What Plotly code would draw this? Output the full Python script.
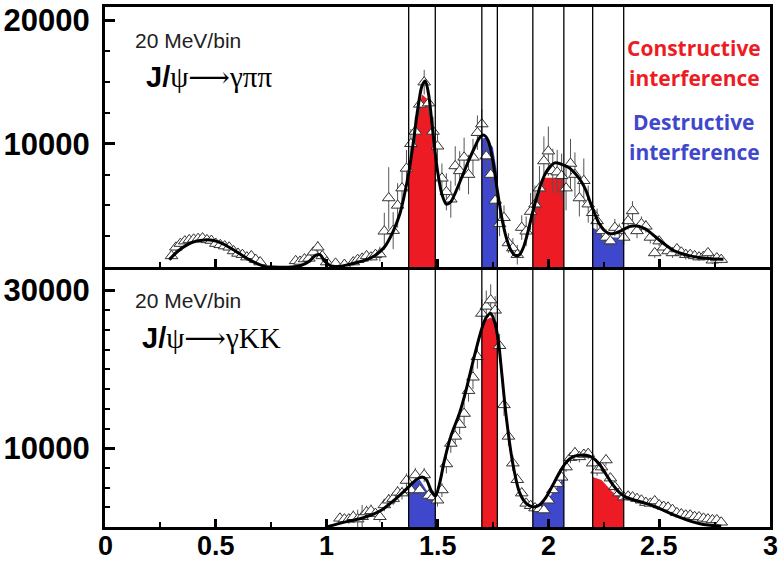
import plotly.graph_objects as go

# ---------------- data ----------------
boundaries = [1.37, 1.49, 1.70, 1.77, 1.93, 2.07, 2.20, 2.34]

# J/psi -> gamma pi pi (top panel)
top_x = [
    0.30, 0.32, 0.34, 0.36, 0.38, 0.40, 0.42, 0.44, 0.46, 0.48,
    0.50, 0.52, 0.54, 0.56, 0.58, 0.60, 0.62, 0.64, 0.66, 0.68,
    0.70, 0.86, 0.88, 0.90, 0.92, 0.94, 0.96, 0.98, 1.00, 1.04,
    1.08, 1.12, 1.14, 1.16, 1.18, 1.20, 1.22, 1.24, 1.26, 1.28,
    1.30, 1.32, 1.34, 1.36, 1.38, 1.40, 1.42, 1.44, 1.46, 1.48,
    1.50, 1.52, 1.54, 1.56, 1.58, 1.60, 1.62, 1.64, 1.66, 1.68,
    1.70, 1.72, 1.74, 1.76, 1.78, 1.80, 1.82, 1.84, 1.86, 1.88,
    1.90, 1.92, 1.94, 1.96, 1.98, 2.00, 2.02, 2.04, 2.06, 2.08,
    2.10, 2.12, 2.14, 2.16, 2.18, 2.20, 2.22, 2.24, 2.26, 2.28,
    2.30, 2.32, 2.34, 2.36, 2.38, 2.40, 2.42, 2.44, 2.46, 2.48,
    2.50, 2.52, 2.54, 2.56, 2.58, 2.60, 2.62, 2.64, 2.66, 2.68,
    2.70, 2.72, 2.74, 2.76, 2.78]
top_y = [
    900, 1600, 1900, 2100, 2200, 2250, 2300, 2350, 2200, 2150,
    1900, 1800, 1700, 1600, 1300, 1100, 1000, 800, 900, 600,
    400, 500, 450, 650, 700, 1200, 1600, 900, 400, 300,
    200, 400, 600, 700, 900, 800, 1000, 1050, 2900, 5600,
    2950, 5000, 6400, 8000, 10000, 11000, 13200, 15000, 13300, 11000,
    9800, 7200, 6100, 5500, 8200, 7800, 8900, 7500, 8900, 10900,
    11600, 9000, 7500, 5400, 3500, 4000, 1950, 1540, 1000, 3200,
    2900, 4500, 5100, 6400, 8600, 9400, 7800, 7700, 7400, 6400,
    8400, 7500, 5600, 7000, 5100, 4400, 3740, 2930, 2400, 2100,
    3200, 2930, 2400, 3740, 4550, 2930, 3500, 3300, 2400, 1140,
    2100, 1600, 1300, 1140, 1460, 1200, 1000, 1000, 900, 800,
    850, 1140, 550, 730, 600]
top_err = [
    300, 300, 300, 300, 300, 300, 300, 300, 300, 300,
    300, 300, 300, 300, 300, 300, 300, 300, 300, 300,
    300, 300, 300, 300, 300, 400, 500, 400, 300, 300,
    300, 300, 300, 300, 300, 300, 400, 600, 1500, 2500,
    1500, 1800, 1500, 1500, 1200, 1200, 1000, 1000, 1000, 1200,
    1200, 1200, 1500, 1500, 1600, 1600, 1600, 1600, 1500, 1400,
    1200, 1300, 1300, 1200, 1000, 1000, 800, 800, 800, 1000,
    1200, 1500, 1500, 1800, 2000, 2000, 1800, 1800, 1800, 1800,
    2000, 1800, 1500, 1800, 1500, 1200, 1000, 800, 700, 600,
    700, 600, 600, 700, 800, 600, 600, 500, 500, 400,
    400, 400, 400, 400, 400, 400, 400, 300, 300, 300,
    300, 300, 300, 300, 300]

top_curve_x = [
    0.29, 0.33, 0.37, 0.41, 0.45, 0.49, 0.53, 0.57, 0.61, 0.65,
    0.69, 0.72, 0.76, 0.84, 0.88, 0.92, 0.95, 0.97, 0.99, 1.02,
    1.06, 1.10, 1.14, 1.18, 1.22, 1.26, 1.30, 1.33, 1.35, 1.37,
    1.39, 1.41, 1.43, 1.445, 1.46, 1.48, 1.50, 1.52, 1.54, 1.56,
    1.58, 1.61, 1.64, 1.67, 1.69, 1.71, 1.73, 1.75, 1.77, 1.79,
    1.81, 1.83, 1.85, 1.87, 1.89, 1.91, 1.93, 1.95, 1.97, 1.99,
    2.01, 2.03, 2.05, 2.07, 2.09, 2.11, 2.13, 2.15, 2.17, 2.19,
    2.21, 2.23, 2.25, 2.27, 2.29, 2.31, 2.33, 2.35, 2.37, 2.39,
    2.41, 2.43, 2.45, 2.48, 2.51, 2.54, 2.57, 2.60, 2.64, 2.68,
    2.72, 2.76, 2.79]
top_curve_y = [
    600, 1300, 1800, 2100, 2200, 2150, 1900, 1500, 1050, 600,
    250, 50, 0, 0, 100, 450, 950, 1000, 500, 80,
    60, 200, 380, 600, 950, 1600, 2900, 4300, 5800, 7600,
    10000, 12700, 14700, 15100, 14000, 10800, 7800, 5900, 5100, 5300,
    6000, 7300, 8600, 9800, 10500, 10700, 10200, 8600, 6200, 4000,
    2400, 1400, 950, 1000, 1700, 3000, 4500, 5800, 6900, 7700,
    8200, 8450, 8400, 8250, 8100, 7800, 7400, 6900, 6200, 5200,
    4300, 3500, 3000, 2750, 2700, 2800, 2950, 3150, 3300, 3350,
    3300, 3150, 2950, 2500, 2050, 1650, 1300, 1100, 900, 780,
    700, 650, 620]

# shaded interference regions, top panel
top_red1_x = [1.37, 1.40, 1.43, 1.45, 1.47, 1.49]
top_red1_y = [7400, 11400, 14000, 13700, 12100, 10000]
top_blue1_x = [1.70, 1.72, 1.75, 1.77]
top_blue1_y = [10400, 10500, 9700, 7500]
top_red2_x = [1.93, 1.95, 1.975, 2.07]
top_red2_y = [5000, 5900, 7240, 7240]
top_blue2_x = [2.20, 2.22, 2.25, 2.34]
top_blue2_y = [3200, 3000, 2450, 2360]

# J/psi -> gamma K K (bottom panel)
bot_x = [
    1.06, 1.08, 1.10, 1.12, 1.14, 1.16, 1.18, 1.20, 1.22, 1.24,
    1.26, 1.28, 1.30, 1.32, 1.34, 1.36, 1.38, 1.40, 1.42, 1.44,
    1.46, 1.48, 1.50, 1.52, 1.54, 1.56, 1.58, 1.60, 1.62, 1.64,
    1.66, 1.68, 1.70, 1.72, 1.74, 1.76, 1.78, 1.80, 1.82, 1.84,
    1.86, 1.88, 1.90, 1.92, 1.94, 1.96, 1.98, 2.00, 2.02, 2.04,
    2.06, 2.08, 2.10, 2.12, 2.14, 2.16, 2.18, 2.20, 2.22, 2.24,
    2.26, 2.28, 2.30, 2.32, 2.34, 2.36, 2.38, 2.40, 2.42, 2.44,
    2.46, 2.48, 2.50, 2.52, 2.54, 2.56, 2.58, 2.60, 2.62, 2.64,
    2.66, 2.68, 2.70, 2.72, 2.74, 2.76, 2.78]
bot_y = [
    1100, 1000, 1000, 1300, 1000, 1300, 1900, 2050, 1700, 1300,
    2800, 3400, 3600, 4400, 4300, 5900, 4700, 6600, 4700, 6600,
    4000, 3800, 3400, 4700, 8000, 10600, 11500, 13000, 14400, 17300,
    19000, 21600, 27100, 28000, 28800, 27500, 23000, 15500, 11500, 8100,
    6000, 4300, 3000, 2700, 2400, 2300, 2150, 3400, 4700, 5500,
    6300, 7600, 8800, 9400, 8900, 9200, 9300, 8100, 7200, 7600,
    8500, 6200, 5100, 4300, 3800, 3900, 3800, 3600, 3400, 3100,
    3000, 3300, 2800, 2600, 2500, 2200, 1800, 1650, 1500, 1500,
    1300, 1270, 1100, 1000, 900, 900, 600]
bot_err = [
    500, 500, 600, 800, 1200, 1500, 800, 800, 700, 700,
    800, 800, 800, 800, 800, 900, 900, 900, 900, 900,
    800, 800, 800, 900, 1200, 1200, 1200, 1200, 1400, 1400,
    1500, 1500, 1800, 2000, 2000, 1800, 1500, 1400, 1200, 1000,
    800, 700, 600, 600, 600, 600, 600, 600, 600, 600,
    600, 600, 700, 700, 700, 700, 700, 700, 700, 700,
    700, 600, 600, 600, 500, 500, 500, 500, 500, 500,
    500, 500, 400, 400, 400, 400, 400, 400, 400, 400,
    400, 400, 400, 300, 300, 300, 300]

bot_curve_x = [
    1.00, 1.05, 1.10, 1.15, 1.20, 1.25, 1.30, 1.34, 1.37, 1.40,
    1.43, 1.45, 1.47, 1.49, 1.51, 1.53, 1.56, 1.60, 1.63, 1.66,
    1.70, 1.72, 1.74, 1.76, 1.775, 1.79, 1.81, 1.84, 1.87, 1.90,
    1.93, 1.96, 1.99, 2.02, 2.05, 2.08, 2.11, 2.14, 2.17, 2.20,
    2.23, 2.26, 2.29, 2.32, 2.35, 2.39, 2.44, 2.48, 2.52, 2.56,
    2.60, 2.64, 2.68, 2.72, 2.78]
bot_curve_y = [
    0, 400, 750, 1050, 1500, 2200, 3300, 4300, 5100, 5900,
    6350, 6000, 4700, 3900, 5600, 8300, 11500, 14500, 17500, 21000,
    25200, 26600, 27100, 25800, 23500, 19500, 14000, 8000, 4400, 3000,
    2550, 2800, 3800, 5300, 6900, 8200, 8900, 9100, 9100, 8800,
    8000, 6700, 5400, 4400, 3800, 3400, 3000, 2600, 2100, 1600,
    1150, 750, 450, 250, 100]

# shaded interference regions, bottom panel
bot_blue1_x = [1.37, 1.39, 1.42, 1.45, 1.49]
bot_blue1_y = [4940, 5570, 6000, 4700, 3420]
bot_red1_x = [1.70, 1.74, 1.77]
bot_red1_y = [26000, 26600, 26000]
bot_blue2_x = [1.93, 1.99, 2.03, 2.07]
bot_blue2_y = [2400, 3300, 4700, 6200]
bot_red2_x = [2.20, 2.24, 2.29, 2.34]
bot_red2_y = [6330, 5950, 4430, 3670]

x_tick_vals = [0, 0.5, 1, 1.5, 2, 2.5, 3]
x_tick_text = ["0", "0.5", "1", "1.5", "2", "2.5", "3"]
top_y_ticks = [10000, 20000]
bot_y_ticks = [10000, 30000]

RED = "#ED1C24"
BLUE = "#3F48CC"

fig = go.Figure()


def add_fill(xs, ys, color, xa, ya):
    fig.add_trace(go.Scatter(x=xs, y=ys, mode="lines", fill="tozeroy",
                             fillcolor=color, line=dict(width=0, color=color),
                             xaxis=xa, yaxis=ya, hoverinfo="skip"))


# top panel fills
add_fill(top_red1_x, top_red1_y, RED, "x2", "y2")
add_fill(top_blue1_x, top_blue1_y, BLUE, "x2", "y2")
add_fill(top_red2_x, top_red2_y, RED, "x2", "y2")
add_fill(top_blue2_x, top_blue2_y, BLUE, "x2", "y2")
# bottom panel fills
add_fill(bot_blue1_x, bot_blue1_y, BLUE, "x", "y")
add_fill(bot_red1_x, bot_red1_y, RED, "x", "y")
add_fill(bot_blue2_x, bot_blue2_y, BLUE, "x", "y")
add_fill(bot_red2_x, bot_red2_y, RED, "x", "y")

marker_style = dict(symbol="triangle-up", size=11, color="white",
                    line=dict(color="#333333", width=1))
err_style = dict(type="data", thickness=1, width=0, color="#555555")

fig.add_trace(go.Scatter(x=top_x, y=top_y, mode="markers", marker=marker_style,
                         error_y=dict(array=top_err, **err_style),
                         xaxis="x2", yaxis="y2"))
fig.add_trace(go.Scatter(x=bot_x, y=bot_y, mode="markers", marker=marker_style,
                         error_y=dict(array=bot_err, **err_style),
                         xaxis="x", yaxis="y"))

fig.add_trace(go.Scatter(x=top_curve_x, y=top_curve_y, mode="lines",
                         line=dict(color="black", width=3, shape="spline", smoothing=0.8),
                         xaxis="x2", yaxis="y2"))
fig.add_trace(go.Scatter(x=bot_curve_x, y=bot_curve_y, mode="lines",
                         line=dict(color="black", width=3, shape="spline", smoothing=0.8),
                         xaxis="x", yaxis="y"))

for b in boundaries:
    fig.add_shape(type="line", xref="x", yref="paper", x0=b, x1=b, y0=0, y1=1,
                  line=dict(color="black", width=1.3), layer="above")

tick_font = dict(family="Liberation Sans", size=31, color="black", weight="bold")

xaxis_common = dict(range=[0, 3], showgrid=False, zeroline=False, automargin=False,
                    showline=True, linecolor="black", linewidth=3, mirror=True,
                    ticks="inside", ticklen=8, tickwidth=3, tickcolor="black",
                    tickmode="array", tickvals=x_tick_vals, ticktext=x_tick_text,
                    showticklabels=False,
                    minor=dict(ticks="inside", tickmode="linear", tick0=0, dtick=0.25,
                               ticklen=5, tickwidth=2, tickcolor="black"))
yaxis_common = dict(showgrid=False, zeroline=False, automargin=False,
                    showline=True, linecolor="black", linewidth=3, mirror=True,
                    ticks="inside", ticklen=10, tickwidth=3, tickcolor="black",
                    tickfont=tick_font, ticklabelstandoff=6,
                    minor=dict(ticks="inside", tickmode="linear", tick0=0, dtick=2500,
                               ticklen=5, tickwidth=2, tickcolor="black"))

fig.update_layout(
    width=784, height=565,
    margin=dict(l=105, r=14, t=7, b=38, autoexpand=False),
    paper_bgcolor="white", plot_bgcolor="white",
    showlegend=False,
    xaxis=dict(**xaxis_common, anchor="y", domain=[0, 1]),
    xaxis2=dict(**xaxis_common, anchor="y2", domain=[0, 1], matches="x"),
    yaxis=dict(**yaxis_common, anchor="x", domain=[0, 0.494], range=[0, 32600],
               tickmode="array", tickvals=bot_y_ticks,
               ticktext=[str(v) for v in bot_y_ticks]),
    yaxis2=dict(**yaxis_common, anchor="x2", domain=[0.5, 1], range=[0, 21100],
                tickmode="array", tickvals=top_y_ticks,
                ticktext=[str(v) for v in top_y_ticks]),
)

# x-axis tick labels, placed just below the bottom axis
xlabel_font = dict(family="Liberation Sans", size=27, color="black", weight="bold")
for v, t in zip(x_tick_vals, x_tick_text):
    fig.add_annotation(x=v, y=0, xref="x", yref="paper", xanchor="center",
                       yanchor="top", yshift=-3, text=t, showarrow=False,
                       font=xlabel_font, borderpad=0)

label_font = dict(family="Liberation Sans", size=21, color="#222222")
title_font = dict(family="Liberation Sans", size=29, color="black")
serif = "<span style='font-family:Liberation Serif'>"
arrow = "<span style='font-family:DejaVu Serif'>⟶</span>"

fig.add_annotation(x=0.042, y=0.9365, xref="paper", yref="paper", xanchor="left",
                   yanchor="middle", text="20 MeV/bin", showarrow=False, font=label_font)
fig.add_annotation(x=0.058, y=0.865, xref="paper", yref="paper", xanchor="left",
                   yanchor="middle",
                   text="<b>J/</b>" + serif + "ψ</span>" + arrow + serif + "γππ</span>",
                   showarrow=False, font=title_font)
fig.add_annotation(x=0.042, y=0.4365, xref="paper", yref="paper", xanchor="left",
                   yanchor="middle", text="20 MeV/bin", showarrow=False, font=label_font)
fig.add_annotation(x=0.053, y=0.3635, xref="paper", yref="paper", xanchor="left",
                   yanchor="middle",
                   text="<b>J/</b>" + serif + "ψ</span>" + arrow + serif + "γKK</span>",
                   showarrow=False, font=title_font)

legend_font_r = dict(family="Open Sans", size=21, color=RED, weight="bold")
legend_font_b = dict(family="Open Sans", size=21, color=BLUE, weight="bold")
for txt, py, fnt in [("Constructive", 48, legend_font_r), ("interference", 78, legend_font_r),
                     ("Destructive", 122, legend_font_b), ("interference", 152, legend_font_b)]:
    fig.add_annotation(x=(694 - 105) / 665, y=(527 - py) / 520, xref="paper", yref="paper",
                       xanchor="center", yanchor="middle", text="<b>" + txt + "</b>",
                       showarrow=False, font=fnt)

fig.write_html("out.html",
               config={"displayModeBar": False},
               post_script="document.body.style.margin='0';"
                           "document.body.style.overflow='hidden';")
